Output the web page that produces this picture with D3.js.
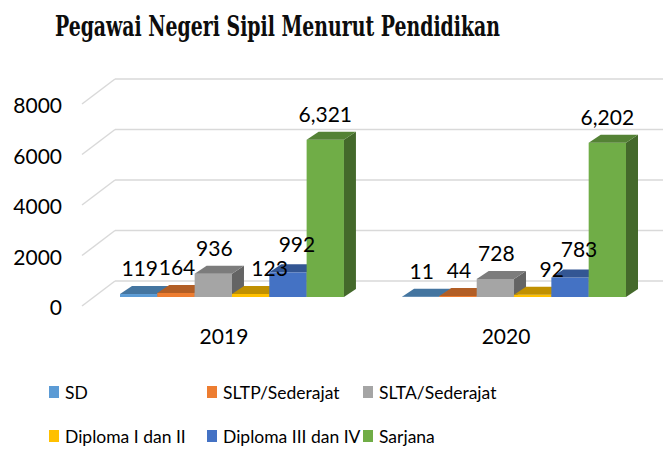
<!DOCTYPE html>
<html>
<head>
<meta charset="utf-8">
<script src="https://cdn.jsdelivr.net/npm/d3@7"></script>
<style>
  body { margin: 0; background: #fff; }
  svg { display: block; }
</style>
</head>
<body>
<div id="chart"></div>
<script>
// data
const categories = ["2019", "2020"];
const seriesNames = ["SD", "SLTP/Sederajat", "SLTA/Sederajat", "Diploma I dan II", "Diploma III dan IV", "Sarjana"];
const values2019 = [119, 164, 936, 123, 992, 6321];
const values2020 = [11, 44, 728, 92, 783, 6202];
const seriesColors = ["#5B9BD5", "#ED7D31", "#A5A5A5", "#FFC000", "#4472C4", "#70AD47"];
const yTicks = [0, 2000, 4000, 6000, 8000];

const valuesByCategory = [values2019, values2020];

let svgWidth = 663;
let svgHeight = 450;

let svg = d3.select("#chart")
    .append("svg")
    .attr("width", svgWidth)
    .attr("height", svgHeight);

// depth of the walls and of the bars (3d look)
let wallDepth = {dx: 33, dy: -25};
let barDepth = {dx: 12, dy: -8};

// scale for the front edge of the walls (ticks)
let yWall = d3.scaleLinear()
    .domain([0, 8000])
    .range([306, 104]);

// scale for the bars (they sit a bit deeper)
let yBar = d3.scaleLinear()
    .domain([0, 8000])
    .range([297, 98]);

let xCat = d3.scaleBand()
    .domain(categories)
    .range([120, 626])
    .paddingInner(0.206)
    .paddingOuter(0);

let xSeries = d3.scaleBand()
    .domain(seriesNames)
    .range([0, xCat.bandwidth()]);

// title
svg.append("text")
    .attr("x", 55)
    .attr("y", 36)
    .attr("textLength", 445)
    .attr("lengthAdjust", "spacingAndGlyphs")
    .style("font-family", "'DejaVu Serif Condensed', 'DejaVu Serif', serif")
    .style("font-stretch", "condensed")
    .style("font-weight", "bold")
    .style("font-size", "27px")
    .style("fill", "#0d0d0d")
    .text("Pegawai Negeri Sipil Menurut Pendidikan");

// gridlines: back wall + left wall
let grid = svg.append("g");
grid.selectAll("line.back")
    .data(yTicks)
    .join("line")
    .attr("class", "back")
    .attr("x1", 82 + wallDepth.dx)
    .attr("x2", svgWidth)
    .attr("y1", d => yWall(d) + wallDepth.dy)
    .attr("y2", d => yWall(d) + wallDepth.dy)
    .attr("stroke", "#d9d9d9")
    .attr("stroke-width", 1.5);

grid.selectAll("line.side")
    .data(yTicks)
    .join("line")
    .attr("class", "side")
    .attr("x1", 82)
    .attr("x2", 82 + wallDepth.dx)
    .attr("y1", d => yWall(d))
    .attr("y2", d => yWall(d) + wallDepth.dy)
    .attr("stroke", "#d9d9d9")
    .attr("stroke-width", 1.5);

// y axis labels
let leftAxis = d3.axisLeft(yWall)
    .tickValues(yTicks)
    .tickFormat(d3.format("d"))
    .tickSize(0)
    .tickPadding(0);

let yAxisG = svg.append("g")
    .attr("transform", "translate(62, 2)")
    .call(leftAxis);
yAxisG.select(".domain").remove();
yAxisG.selectAll("text")
    .style("font-family", "Lato, sans-serif")
    .style("font-size", "21px")
    .style("fill", "#000");

// bars
let bars = [];
categories.forEach((cat, ci) => {
    seriesNames.forEach((s, si) => {
        bars.push({cat: cat, series: s, value: valuesByCategory[ci][si], color: seriesColors[si], si: si});
    });
});

let barG = svg.append("g");
bars.forEach(b => {
    let x0 = xCat(b.cat) + xSeries(b.series);
    let w = xSeries.bandwidth();
    let y0 = yBar(0);
    let y1 = yBar(b.value);
    let g = barG.append("g");

    // front face
    g.append("rect")
        .attr("x", x0)
        .attr("y", y1)
        .attr("width", w)
        .attr("height", y0 - y1)
        .attr("fill", b.color);

    // side face
    g.append("polygon")
        .attr("points", [
            [x0 + w, y0],
            [x0 + w + barDepth.dx, y0 + barDepth.dy],
            [x0 + w + barDepth.dx, y1 + barDepth.dy],
            [x0 + w, y1]
        ].join(" "))
        .attr("fill", d3.color(b.color).darker(1.4));

    // top face
    g.append("polygon")
        .attr("points", [
            [x0, y1],
            [x0 + barDepth.dx, y1 + barDepth.dy],
            [x0 + w + barDepth.dx, y1 + barDepth.dy],
            [x0 + w, y1]
        ].join(" "))
        .attr("fill", d3.color(b.color).darker(0.8));
});

// data labels (some are pushed right like in the original)
let labelNudge = [1, 1, 1, 19, 9, 0];
let labelLift = [25, 25, 25, 25, 28, 25];
svg.append("g")
    .selectAll("text")
    .data(bars)
    .join("text")
    .attr("x", d => xCat(d.cat) + xSeries(d.series) + xSeries.bandwidth() / 2 + labelNudge[d.si])
    .attr("y", d => yBar(d.value) - labelLift[d.si])
    .attr("dy", "0.35em")
    .attr("text-anchor", "middle")
    .style("font-family", "Lato, sans-serif")
    .style("font-size", "21px")
    .style("fill", "#000")
    .text(d => d3.format(",")(d.value));

// category labels
let bottomAxis = d3.axisBottom(xCat)
    .tickSize(0)
    .tickPadding(0);

let xAxisG = svg.append("g")
    .attr("transform", "translate(-8, 337)")
    .call(bottomAxis);
xAxisG.select(".domain").remove();
xAxisG.selectAll("text")
    .attr("y", 0)
    .attr("dy", "0.35em")
    .style("font-family", "Lato, sans-serif")
    .style("font-size", "21px")
    .style("fill", "#000");

// legend
let legendCols = [49, 207, 363];
let legendRows = [393, 437];
let legend = svg.append("g")
    .selectAll("g")
    .data(seriesNames)
    .join("g")
    .attr("transform", (d, i) => `translate(${legendCols[i % 3]}, ${legendRows[Math.floor(i / 3)]})`);

legend.append("rect")
    .attr("x", 0)
    .attr("y", -7)
    .attr("width", 10)
    .attr("height", 12)
    .attr("fill", (d, i) => seriesColors[i]);

legend.append("text")
    .attr("x", 16)
    .attr("y", 0)
    .attr("dy", "0.35em")
    .style("font-family", "Lato, sans-serif")
    .style("font-size", "17.5px")
    .style("fill", "#000")
    .text(d => d);
</script>
</body>
</html>
